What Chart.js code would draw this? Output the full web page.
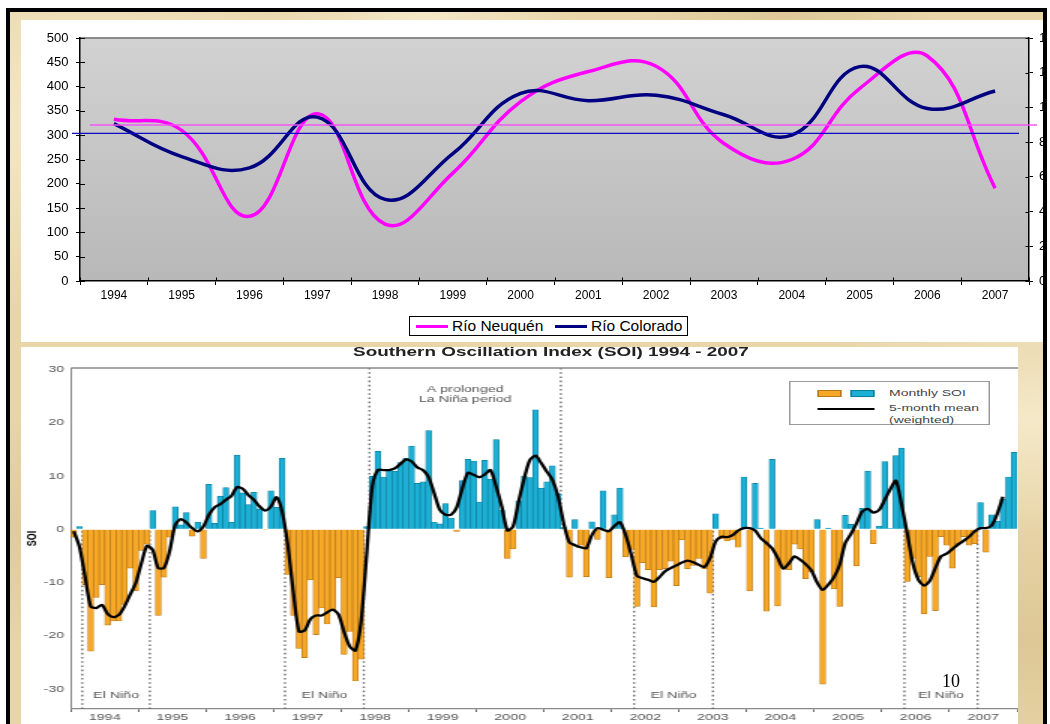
<!DOCTYPE html>
<html>
<head>
<meta charset="utf-8">
<script src="https://cdn.jsdelivr.net/npm/chart.js@4.4.1/dist/chart.umd.min.js"></script>
<style>
html,body{margin:0;padding:0;background:#fff;width:1050px;height:724px;overflow:hidden;}
#frame{position:absolute;left:6px;top:8px;width:1033px;height:740px;border:4px solid #000;border-bottom:none;
  background-color:#e8d5a8;
  background-image:
   radial-gradient(ellipse at 8% 15%, rgba(255,249,228,.6) 0, rgba(255,249,228,0) 22%),
   radial-gradient(ellipse at 40% 2%, rgba(255,249,228,.55) 0, rgba(255,249,228,0) 18%),
   radial-gradient(ellipse at 75% 1%, rgba(214,190,140,.55) 0, rgba(214,190,140,0) 14%),
   radial-gradient(ellipse at 99% 55%, rgba(255,249,228,.55) 0, rgba(255,249,228,0) 20%),
   radial-gradient(ellipse at 99% 85%, rgba(210,185,130,.5) 0, rgba(210,185,130,0) 15%),
   radial-gradient(ellipse at 1% 70%, rgba(214,192,142,.5) 0, rgba(214,192,142,0) 16%);}
#top{position:absolute;left:21px;top:20px;width:1022px;height:322px;background:#fff;overflow:hidden;}
#bot{position:absolute;left:21px;top:347px;width:997px;height:380px;background:#fff;overflow:hidden;}
#wrap{position:absolute;left:0;top:0;width:666px;height:377px;transform:scaleX(1.5);transform-origin:0 0;}
canvas{display:block;position:absolute;left:0;top:0;}
#legTop{position:absolute;left:388px;top:296px;width:279px;height:20px;box-sizing:border-box;border:1px solid #000;background:#fff;
  font-family:"Liberation Sans",Arial,sans-serif;font-size:15.5px;color:#000;}
#legTop .sw{position:absolute;top:7.5px;width:32px;height:3px;}
#legTop .tx{position:absolute;top:0;line-height:18px;white-space:nowrap;}
#title{position:absolute;left:0;top:-1px;width:706.6px;text-align:center;font-family:"Liberation Sans",Arial,sans-serif;
  font-weight:bold;font-size:12.6px;line-height:13px;color:#222;white-space:nowrap;}
#legBot{position:absolute;left:512px;top:34px;width:134px;height:44px;box-sizing:border-box;border:1px solid #9a9a9a;background:#fff;
  font-family:"Liberation Sans",Arial,sans-serif;font-size:9.3px;color:#444;}
#legBot div{position:absolute;}
#legBot .t{line-height:10px;white-space:nowrap;}
#pageNo{position:absolute;left:921px;top:325px;font-family:"Liberation Serif","Times New Roman",serif;font-size:18px;line-height:18px;color:#000;}
</style>
</head>
<body>
<div id="frame"></div>
<div id="top">
  <canvas id="c1" width="1060" height="322"></canvas>
  <div id="legTop"></div>
</div>
<div id="bot">
  <div id="wrap">
    <canvas id="c2" width="666" height="377"></canvas>
    <div id="title">Southern Oscillation Index (SOI) 1994 - 2007</div>
    <div id="legBot"></div>
  </div>
  <div id="pageNo">10</div>
</div>
<script>
// ---------- River flows (top chart) ----------
const riverYears = ['1994','1995','1996','1997','1998','1999','2000','2001','2002','2003','2004','2005','2006','2007'];
const neuquen   = [333, 310, 133, 344, 117, 222, 369, 431, 442, 283, 250, 396, 463, 191];
const colorado  = [90.7, 71.7, 65.2, 94.4, 47.0, 73.4, 108.1, 103.9, 107.0, 95.8, 84.0, 123.5, 99.4, 109.5];
const neuquenMean = 321;
const coloradoMean = 85;

// ---------- SOI (bottom chart) ----------
const soiYears = ['1994','1995','1996','1997','1998','1999','2000','2001','2002','2003','2004','2005','2006','2007'];
const monthNames = ['Jan','Feb','Mar','Apr','May','Jun','Jul','Aug','Sep','Oct','Nov','Dec'];
const soiTicks = [-30, -20, -10, 0, 10, 20, 30];
const soiMonthly = [
  -1.5, 0.5, -10.4, -22.9, -12.8, -10.4, -18.0, -17.2, -17.2, -14.1, -7.3, -11.6,
  -4.0, -2.8, 3.5, -16.2, -9.0, -1.5, 4.2, 0.8, 3.1, -1.3, 1.3, -5.5,
  8.4, 1.1, 6.2, 7.8, 1.3, 13.9, 6.8, 4.6, 6.9, 3.8, -0.1, 7.2,
  4.1, 13.3, -8.5, -16.2, -22.4, -24.1, -9.5, -19.8, -14.8, -17.8, -15.2, -9.1,
  -23.5, -19.2, -28.5, -24.4, 0.5, 9.9, 14.6, 9.8, 11.1, 10.9, 12.5, 13.3,
  15.6, 8.6, 8.9, 18.5, 1.3, 1.0, 4.8, 2.1, -0.4, 9.1, 13.1, 12.8,
  5.1, 12.9, 9.4, 16.8, 3.6, -5.5, -3.7, 5.3, 9.9, 9.7, 22.4, 7.7,
  8.9, 11.9, 6.7, 0.3, -9.0, 1.8, -3.0, -8.9, 1.4, -1.9, 7.2, -9.1,
  2.7, 7.7, -5.2, -3.8, -14.5, -6.3, -7.6, -14.6, -7.6, -7.4, -6.0, -10.6,
  -2.0, -7.4, -6.8, -5.5, -7.4, -12.0, 2.9, -1.8, -2.2, -1.9, -3.4, 9.8,
  -11.6, 8.6, 0.2, -15.4, 13.1, -14.4, -6.9, -7.6, -2.8, -3.7, -9.3, -8.0,
  1.8, -29.1, 0.2, -11.2, -14.5, 2.6, 0.9, -6.9, 3.9, 10.9, -2.7, 0.6,
  12.7, 0.1, 13.8, 15.2, -9.8, -5.5, -8.9, -15.9, -5.1, -15.3, -1.4, -3.0,
  -7.3, -2.7, -1.4, -3.0, -2.7, 5.0, -4.3, 2.7, 1.5, 5.6, 9.8, 14.4
];
const soiMean5 = [
  -0.4, -3.3, -8.9, -14.5, -14.8, -14.2, -15.9, -16.5, -16.1, -14.5, -12.3, -10.1,
  -6.4, -3.1, -3.9, -7.3, -7.3, -4.2, 0.8, 1.9, 1.25, 0.2, -0.4, 0.5,
  2.7, 4.1, 4.7, 5.5, 6.25, 7.9, 7.6, 6.4, 5.5, 4.25, 3.5, 4.25,
  6.0, 3.3, -3.0, -12.0, -19.2, -19.0, -16.9, -16.2, -16.2, -15.6, -15.1, -16.0,
  -19.3, -22.0, -22.8, -17.5, -4.8, 8.0, 11.1, 11.1, 11.1, 11.4, 12.25, 13.1,
  12.7, 11.6, 11.1, 9.75, 6.75, 3.6, 2.7, 2.7, 4.1, 7.7, 10.6, 10.2,
  9.75, 10.3, 11.1, 8.0, 4.25, -0.25, 0.5, 5.2, 9.6, 13.0, 13.8, 12.4,
  10.8, 9.25, 6.1, 1.1, -2.5, -3.0, -3.4, -3.6, -1.1, 0.2, -0.1, -0.4,
  0.6, 1.3, -1.1, -4.8, -8.75, -9.2, -9.5, -9.9, -9.0, -7.9, -7.3, -6.8,
  -6.25, -5.9, -6.2, -6.7, -7.1, -5.4, -2.3, -1.4, -1.5, -1.1, -0.25, 0.2,
  0.2, -0.25, -1.7, -2.6, -3.6, -5.4, -7.4, -6.4, -5.1, -5.75, -6.6, -7.75,
  -10.0, -11.4, -10.4, -9.0, -6.7, -2.6, -0.9, 1.1, 3.3, 3.8, 3.1, 3.6,
  5.5, 7.5, 9.1, 4.6, -0.75, -6.4, -9.5, -10.6, -9.7, -7.3, -5.1, -4.6,
  -3.75, -2.9, -2.2, -1.4, -0.4, 0.2, 0.2, 0.7, 2.9, 6.1
];
const elNinoPeriods = [[2, 14], [38, 52], [100, 114], [148, 161]];
const laNinaPeriod = [53, 87];
const elNinoText = 'El Niño';
const laNinaText = ['A prolonged', 'La Niña period'];

Chart.defaults.font.family = '"Liberation Sans", Arial, sans-serif';

// ---------------- TOP CHART ----------------
const plotBg = {
  id: 'plotBg',
  beforeDraw(chart) {
    const {ctx, chartArea: a} = chart;
    const g = ctx.createLinearGradient(0, a.top, 0, a.bottom);
    g.addColorStop(0, '#d2d2d2');
    g.addColorStop(1, '#b8b8b8');
    ctx.save();
    ctx.fillStyle = g;
    ctx.fillRect(a.left, a.top, a.right - a.left, a.bottom - a.top);
    ctx.strokeStyle = '#8a8a8a';
    ctx.lineWidth = 2;
    ctx.beginPath(); ctx.moveTo(a.left, a.top); ctx.lineTo(a.right, a.top); ctx.stroke();
    ctx.restore();
  }
};
const meanLines = {
  id: 'meanLines',
  afterDatasetsDraw(chart) {
    const {ctx, chartArea: a, scales: {y, y1}} = chart;
    ctx.save();
    const yn = y.getPixelForValue(neuquenMean);
    ctx.strokeStyle = 'rgba(245,80,245,0.95)'; ctx.lineWidth = 1.6;
    ctx.beginPath(); ctx.moveTo(a.left + 10, yn); ctx.lineTo(a.right + 8, yn); ctx.stroke();
    const yc = y1.getPixelForValue(coloradoMean);
    ctx.strokeStyle = '#0c0cc4'; ctx.lineWidth = 1.2;
    ctx.beginPath(); ctx.moveTo(a.left - 8, yc); ctx.lineTo(a.right - 10, yc); ctx.stroke();
    ctx.restore();
  }
};
const innerTicks = {
  id: 'innerTicks',
  afterDraw(chart) {
    const {ctx, chartArea: a, scales} = chart;
    ctx.save();
    ctx.strokeStyle = '#000'; ctx.lineWidth = 1;
    ctx.beginPath();
    scales.y.ticks.forEach(t => { const p = Math.round(scales.y.getPixelForValue(t.value)) + 0.5; ctx.moveTo(a.left, p); ctx.lineTo(a.left + 5, p); });
    scales.y1.ticks.forEach(t => { const p = Math.round(scales.y1.getPixelForValue(t.value)) + 0.5; ctx.moveTo(a.right - 3.5, p); ctx.lineTo(a.right, p); });
    const n = chart.data.labels.length;
    for (let i = 0; i <= n; i++) {
      const px = Math.round(a.left + (a.right - a.left) * i / n) + 0.5;
      ctx.moveTo(px, a.bottom - 3.5); ctx.lineTo(px, a.bottom);
    }
    ctx.stroke();
    ctx.restore();
  }
};

const axisTicksFont = {size: 13};
const c1 = new Chart(document.getElementById('c1'), {
  type: 'line',
  data: {
    labels: riverYears,
    datasets: [
      {label: 'Río Neuquén', data: neuquen, yAxisID: 'y', borderColor: '#ff00ff', backgroundColor: '#ff00ff',
       borderWidth: 3.5, pointRadius: 0, tension: 0.42, order: 2},
      {label: 'Río Colorado', data: colorado, yAxisID: 'y1', borderColor: '#000080', backgroundColor: '#000080',
       borderWidth: 3.5, pointRadius: 0, tension: 0.42, order: 1}
    ]
  },
  options: {
    responsive: false, animation: false,
    layout: {padding: {top: 18, left: 0, right: 0, bottom: 0}},
    plugins: {legend: {display: false}, tooltip: {enabled: false}},
    scales: {
      x: {
        offset: true,
        grid: {offset: true, drawOnChartArea: false, tickLength: 4, color: '#000'},
        border: {color: '#000', width: 1.5},
        ticks: {font: {size: 12}, color: '#000', padding: 3, maxRotation: 0, autoSkip: false},
        afterFit: s => { s.height = 61; }
      },
      y: {
        position: 'left', min: 0, max: 500,
        ticks: {stepSize: 50, font: axisTicksFont, color: '#000', padding: 7.5},
        grid: {drawOnChartArea: false, tickLength: 4, color: '#000'},
        border: {color: '#000', width: 1.5},
        afterFit: s => { s.width = 59; }
      },
      y1: {
        position: 'right', min: 0, max: 140,
        ticks: {stepSize: 20, font: axisTicksFont, color: '#000', padding: 6},
        grid: {drawOnChartArea: false, tickLength: 4, color: '#000'},
        border: {color: '#000', width: 1.5},
        afterFit: s => { s.width = 52; }
      }
    }
  },
  plugins: [plotBg, meanLines, innerTicks]
});

// HTML legend for top chart (built from the datasets)
(function () {
  const leg = document.getElementById('legTop');
  const pos = [[6, 42], [145, 181]];
  c1.data.datasets.forEach((ds, i) => {
    const sw = document.createElement('div'); sw.className = 'sw';
    sw.style.left = pos[i][0] + 'px'; sw.style.background = ds.borderColor;
    const tx = document.createElement('div'); tx.className = 'tx';
    tx.style.left = pos[i][1] + 'px'; tx.textContent = ds.label;
    leg.appendChild(sw); leg.appendChild(tx);
  });
})();

// ---------------- BOTTOM CHART ----------------
const monthLabels = soiYears.flatMap(y => monthNames.map(m => m + ' ' + y));
const meanData = soiMean5.concat(new Array(soiMonthly.length - soiMean5.length).fill(null));
const posFill = '#1db0d6', posEdge = '#0b7e9c', negFill = '#f7a826', negEdge = '#b5781a';

const soiDecor = {
  id: 'soiDecor',
  beforeDatasetsDraw(chart) {
    const {ctx, chartArea: a, scales: {xm, y}} = chart;
    const y0 = y.getPixelForValue(0);
    ctx.save();
    ctx.strokeStyle = '#6a6a6a'; ctx.lineWidth = 1.35; ctx.setLineDash([1.6, 2.6]);
    ctx.beginPath();
    elNinoPeriods.forEach(p => p.forEach(m => {
      const x = xm.getPixelForValue(m); ctx.moveTo(x, a.bottom); ctx.lineTo(x, y0);
    }));
    laNinaPeriod.forEach(m => {
      const x = xm.getPixelForValue(m); ctx.moveTo(x, a.top); ctx.lineTo(x, y0);
    });
    ctx.stroke();
    ctx.restore();
  },
  afterDraw(chart) {
    const {ctx, chartArea: a, scales: {xm}} = chart;
    ctx.save();
    ctx.strokeStyle = '#8a8a8a'; ctx.lineWidth = 1.3;
    ctx.beginPath(); ctx.moveTo(a.left, a.top); ctx.lineTo(a.right + 2, a.top); ctx.stroke();
    ctx.fillStyle = '#555';
    ctx.font = '9.5px "Liberation Sans", Arial, sans-serif';
    ctx.textAlign = 'center'; ctx.textBaseline = 'middle';
    elNinoPeriods.forEach(p => {
      ctx.fillText(elNinoText, xm.getPixelForValue((p[0] + p[1]) / 2), 348);
    });
    const lx = xm.getPixelForValue((laNinaPeriod[0] + laNinaPeriod[1]) / 2);
    ctx.fillText(laNinaText[0], lx, 42);
    ctx.fillText(laNinaText[1], lx, 52.5);
    ctx.restore();
  }
};

const c2 = new Chart(document.getElementById('c2'), {
  type: 'bar',
  data: {
    labels: monthLabels,
    datasets: [
      {type: 'line', label: '5-month mean (weighted)', data: meanData, xAxisID: 'x', yAxisID: 'y',
       borderColor: '#000', borderWidth: 2.3, pointRadius: 0, tension: 0.25, spanGaps: false, order: 1},
      {type: 'bar', label: 'Monthly SOI', data: soiMonthly, xAxisID: 'x', yAxisID: 'y',
       backgroundColor: c => (c.raw >= 0 ? posFill : negFill),
       borderColor: c => (c.raw >= 0 ? posEdge : negEdge),
       borderWidth: 0.7, barPercentage: 1, categoryPercentage: 1, order: 2}
    ]
  },
  options: {
    responsive: false, animation: false,
    layout: {padding: {top: 21, left: 0, right: 2, bottom: 0}},
    plugins: {legend: {display: false}, tooltip: {enabled: false}},
    scales: {
      x: {type: 'category', display: false, offset: true},
      xm: {
        type: 'linear', position: 'bottom', min: 0, max: 168, offset: false,
        afterBuildTicks: s => { const t = []; for (let v = 0; v <= 168; v += 6) t.push({value: v}); s.ticks = t; },
        ticks: {
          autoSkip: false, maxRotation: 0, padding: 0, color: '#555', font: {size: 9.5},
          callback: v => (v % 12 === 6 ? soiYears[(v - 6) / 12] : '')
        },
        grid: {offset: false, drawOnChartArea: false, tickLength: 3,
               color: c => (c.tick && c.tick.value % 12 === 0 ? '#666' : 'rgba(0,0,0,0)')},
        border: {color: '#8a8a8a', width: 1.3},
        afterFit: s => { s.height = 15; }
      },
      y: {
        min: -33.75, max: 30.25,
        afterBuildTicks: s => { s.ticks = soiTicks.map(v => ({value: v})); },
        ticks: {color: '#555', font: {size: 9.5}, padding: 4.5},
        grid: {display: true, drawOnChartArea: false, drawTicks: false},
        border: {color: '#8a8a8a', width: 1},
        title: {display: true, text: 'SOI', color: '#000', font: {size: 9, weight: 'bold'}, padding: {top: 2.5, bottom: 0}},
        afterFit: s => { s.width = 33.33; }
      }
    }
  },
  plugins: [soiDecor]
});

// HTML legend for bottom chart (built from the datasets)
(function () {
  const leg = document.getElementById('legBot');
  const barDs = c2.data.datasets[1], lineDs = c2.data.datasets[0];
  const mk = (cls, css, text) => { const d = document.createElement('div'); if (cls) d.className = cls; Object.assign(d.style, css); if (text) d.textContent = text; leg.appendChild(d); };
  mk('', {left: '17.7px', top: '8px', width: '16.7px', height: '6.5px', background: negFill, boxSizing: 'border-box', border: '0.7px solid ' + negEdge});
  mk('', {left: '40.3px', top: '8px', width: '16px', height: '6.5px', background: posFill, boxSizing: 'border-box', border: '0.7px solid ' + posEdge});
  mk('t', {left: '65.7px', top: '6px'}, barDs.label);
  mk('', {left: '18.3px', top: '25.8px', width: '38px', height: '2.4px', background: lineDs.borderColor});
  const parts = lineDs.label.split(' (');
  mk('t', {left: '65.7px', top: '21px'}, parts[0]);
  mk('t', {left: '65.7px', top: '32.5px'}, '(' + parts[1]);
})();
</script>
</body>
</html>
